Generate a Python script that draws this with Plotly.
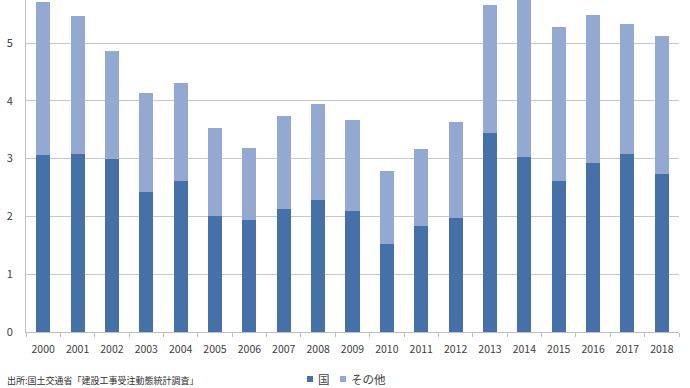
import plotly.graph_objects as go

years = [str(y) for y in range(2000, 2019)]
kuni = [3.07, 3.08, 2.99, 2.43, 2.62, 2.01, 1.94, 2.12, 2.28, 2.09, 1.52, 1.84, 1.98, 3.45, 3.03, 2.62, 2.93, 3.08, 2.74]
total = [5.71, 5.47, 4.86, 4.14, 4.31, 3.53, 3.18, 3.73, 3.95, 3.66, 2.78, 3.17, 3.63, 5.66, 5.85, 5.28, 5.48, 5.33, 5.12]
sonota = [round(t - k, 2) for t, k in zip(total, kuni)]
y_ticks = [0, 1, 2, 3, 4, 5, 6]

c_dark = "#4571A8"
c_light = "#93A9D1"
font_fam = "Noto Sans CJK JP, Noto Sans, sans-serif"

fig = go.Figure()
fig.add_trace(go.Bar(x=years, y=kuni, name="国", marker=dict(color=c_dark, line=dict(width=0)), width=0.41))
fig.add_trace(go.Bar(x=years, y=sonota, name="その他", marker=dict(color=c_light, line=dict(width=0)), width=0.41))

fig.update_layout(
    barmode="stack",
    width=690, height=388,
    margin=dict(l=26, r=11, t=0, b=56, autoexpand=False),
    plot_bgcolor="white", paper_bgcolor="white",
    showlegend=False,
    font=dict(family=font_fam, color="#404040", size=11),
    xaxis=dict(
        type="category", automargin=False,
        showline=True, linecolor="#BFBFBF", linewidth=1,
        ticks="outside", tickson="boundaries", ticklen=4, tickcolor="#BFBFBF",
        ticklabelstandoff=7,
        tickfont=dict(size=10.5, color="#404040"),
        showgrid=False,
    ),
    yaxis=dict(
        range=[0, 5.744], automargin=False,
        tickvals=y_ticks,
        showline=True, linecolor="#BFBFBF", linewidth=1,
        gridcolor="#C8C8C8", gridwidth=1,
        ticks="", ticklabelstandoff=10,
        tickfont=dict(size=11, color="#404040"),
        zeroline=False,
    ),
)

# legend drawn manually (small squares like the original)
leg_y = 379
legend_items = [("国", c_dark, 307), ("その他", c_light, 340)]
for label, col, px in legend_items:
    fig.add_shape(type="rect", xref="paper", yref="paper",
                  x0=(px - 26) / 653, x1=(px + 6 - 26) / 653,
                  y0=(-(leg_y - 332) - 3) / 332, y1=(-(leg_y - 332) + 3) / 332,
                  fillcolor=col, line=dict(width=0))
    fig.add_annotation(text=label, xref="paper", yref="paper",
                       x=(px + 9 - 26) / 653, y=(-(leg_y - 332)) / 332,
                       xanchor="left", yanchor="middle", showarrow=False,
                       font=dict(size=11.5, color="#404040", family=font_fam))

fig.add_annotation(text="出所:国土交通省「建設工事受注動態統計調査」", xref="paper", yref="paper",
                   x=(5 - 26) / 653, y=(-(380 - 332)) / 332,
                   xanchor="left", yanchor="middle", showarrow=False,
                   font=dict(size=9, color="#303030", family=font_fam))

fig.write_html("out.html", config={"displayModeBar": False},
               post_script="document.body.style.margin='0px';")
